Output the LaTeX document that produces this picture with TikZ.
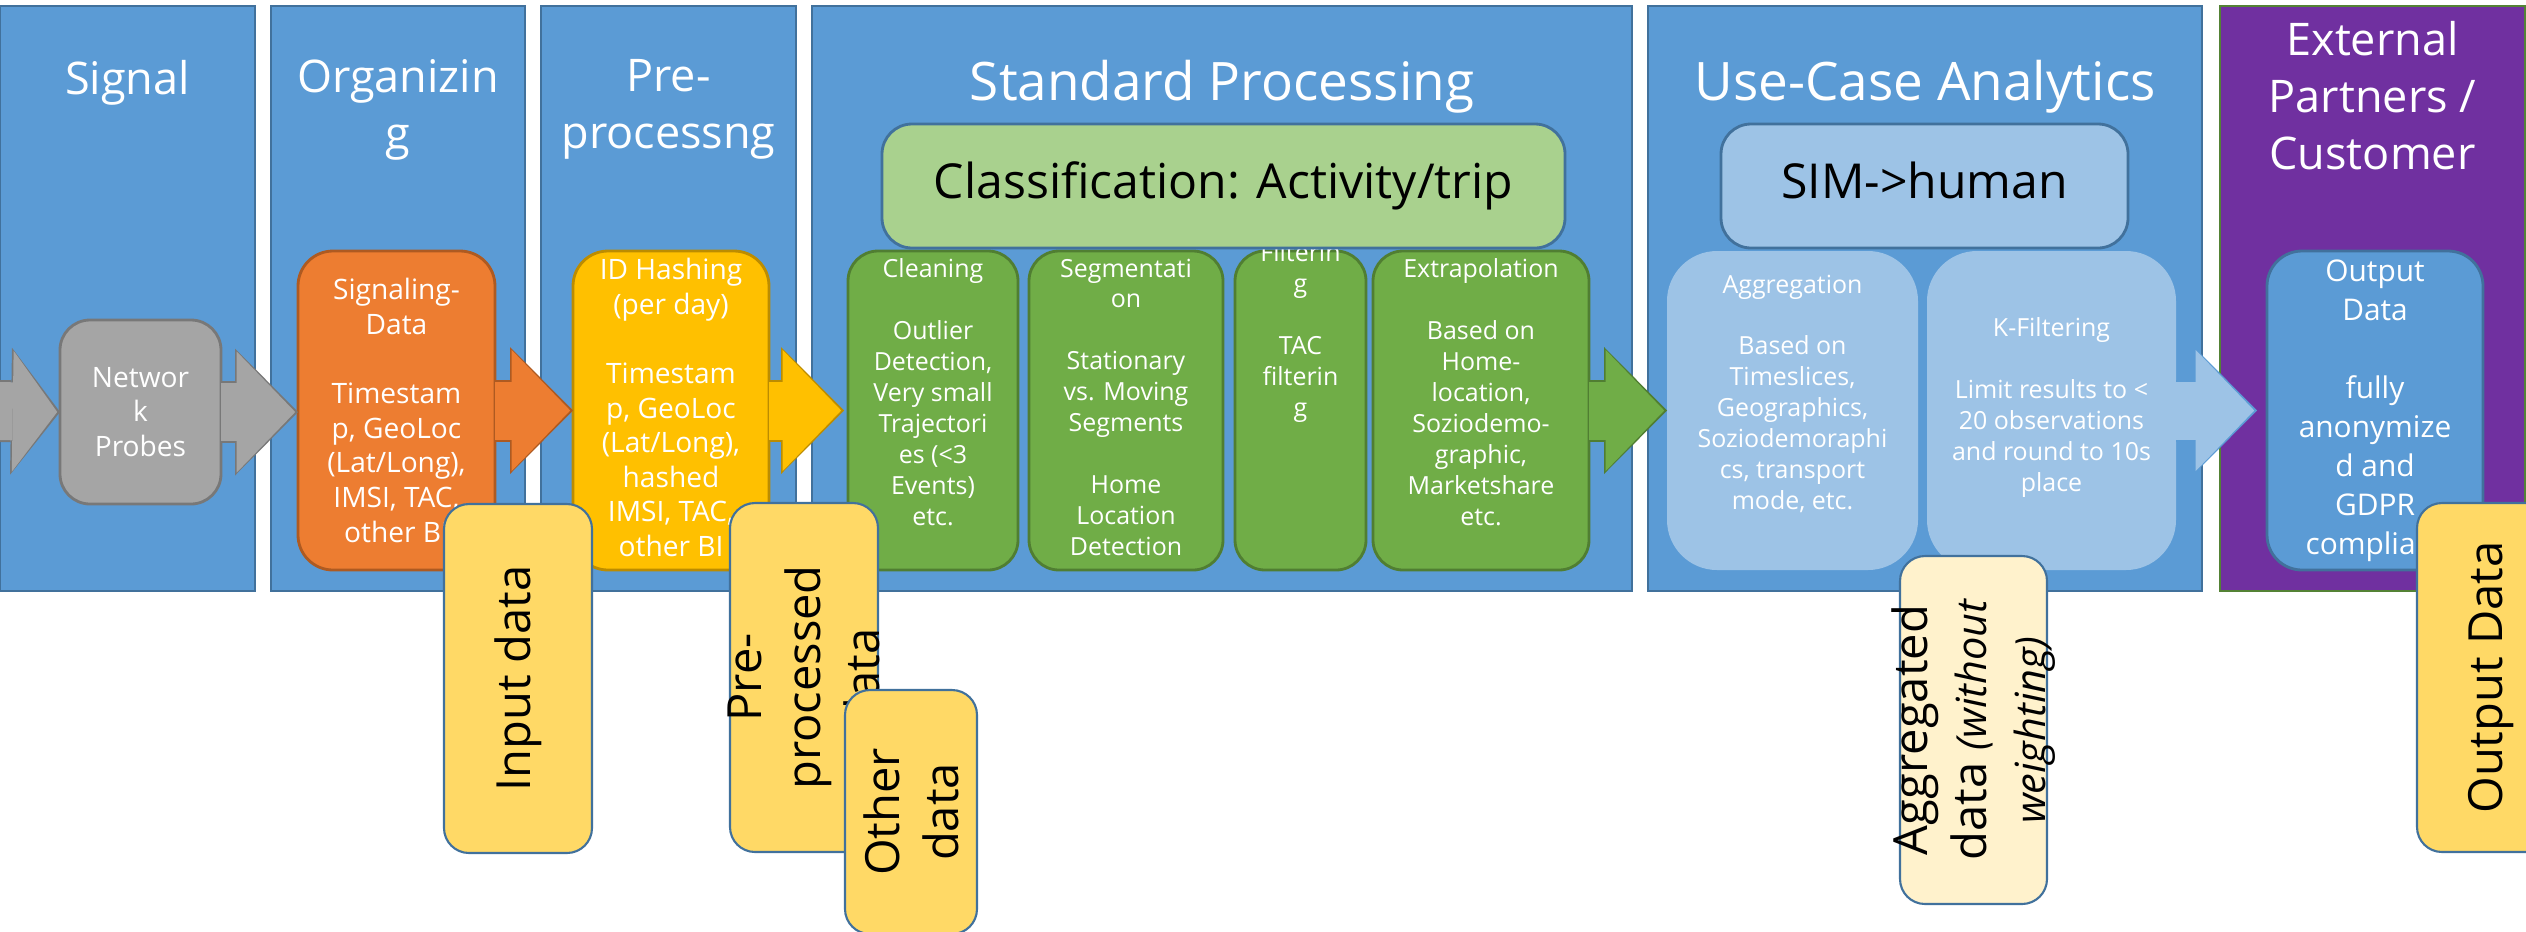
\documentclass[tikz,border=0pt]{standalone}
\usepackage{fontspec}
\setmainfont{Open Sans}
\usetikzlibrary{arrows.meta, positioning, backgrounds}

\definecolor{panelblue}{HTML}{5B9BD5}
\definecolor{panelline}{HTML}{41719C}
\definecolor{extpurple}{HTML}{7030A0}
\definecolor{extline}{HTML}{548235}
\definecolor{probegray}{HTML}{A5A5A5}
\definecolor{probeline}{HTML}{787878}
\definecolor{sigorange}{HTML}{ED7D31}
\definecolor{sigline}{HTML}{AE5A21}
\definecolor{hashyellow}{HTML}{FFC000}
\definecolor{hashline}{HTML}{BC8C00}
\definecolor{stdgreen}{HTML}{70AD47}
\definecolor{stdline}{HTML}{507E32}
\definecolor{clsgreen}{HTML}{A9D18E}
\definecolor{uselight}{HTML}{9DC3E6}
\definecolor{notegold}{HTML}{FFD966}
\definecolor{notecream}{HTML}{FFF2CC}

\begin{document}
\begin{tikzpicture}[
    x=0.1mm, y=-0.1mm,
    % Styles
    panel/.style = {rectangle, draw=panelline, line width=0.6pt, fill=panelblue, anchor=north west, inner sep=0pt, outer sep=0pt, minimum height=58.5mm},
    title/.style = {text=white, align=center, inner sep=0pt, font=\fontsize{12.8}{16.2}\selectfont},
    bigtitle/.style = {title, font=\fontsize{15.1}{18}\selectfont},
    base/.style = {rectangle, rounded corners=3.5mm, line width=0.8pt, minimum height=31.9mm, inner sep=0pt, outer sep=0pt},
    probe/.style = {base, fill=probegray, draw=probeline, rounded corners=3mm, minimum height=18.4mm},
    sigbox/.style = {base, fill=sigorange, draw=sigline},
    hashbox/.style = {base, fill=hashyellow, draw=hashline},
    stdbox/.style = {base, fill=stdgreen, draw=stdline, rounded corners=3mm},
    usebox/.style = {base, fill=uselight, rounded corners=5mm},
    outbox/.style = {base, fill=panelblue, draw=panelline},
    headline/.style = {rectangle, rounded corners=3mm, line width=0.8pt, draw=panelline, minimum height=12.4mm, inner sep=0pt, outer sep=0pt, text height=10.3pt, text depth=3.3pt, font=\fontsize{13.7}{16}\selectfont},
    midtext/.style = {text=white, align=center, inner sep=0pt, font=\fontsize{8}{9.85}\selectfont},
    smltext/.style = {midtext, font=\fontsize{7.1}{8.8}\selectfont},
    outtext/.style = {midtext, font=\fontsize{8.5}{11.1}\selectfont},
    note/.style = {rectangle, rounded corners=2.5mm, line width=0.6pt, draw=panelline, fill=notegold, outer sep=0pt, minimum width=14.8mm, minimum height=34.9mm},
    notetext/.style = {align=center, inner sep=0pt, rotate=90, font=\fontsize{13.4}{16.8}\selectfont},
    arrowedge/.style = {draw=#1, line width=6.2mm, -{Triangle[length=6.3mm, width=12.7mm, line width=0pt]}},
    arrowbody/.style = {draw=#1, line width=5.8mm, -{Triangle[length=5.85mm, width=12.1mm, line width=0pt]}}
]
\useasboundingbox (0,0) rectangle (2526,931);

% --- PANELS ---
\begin{scope}[on background layer]
    \node[panel, minimum width=25.5mm] (signal_panel) at (0,6) {};
    \node[panel, right=1.6mm of signal_panel, minimum width=25.4mm] (organizing_panel) {};
    \node[panel, right=1.6mm of organizing_panel, minimum width=25.5mm] (preproc_panel) {};
    \node[panel, right=1.6mm of preproc_panel, minimum width=82mm] (standard_panel) {};
    \node[panel, right=1.6mm of standard_panel, minimum width=55.4mm] (usecase_panel) {};
    \node[panel, right=1.8mm of usecase_panel, minimum width=30.5mm, fill=extpurple, draw=extline] (external_panel) {};
\end{scope}

\node[title, below=5.4mm of signal_panel.north] (signal_title) {Signal};
\node[title, below=5.3mm of organizing_panel.north] (organizing_title) {Organizin\\g};
\node[title, below=5.3mm of preproc_panel.north] (preproc_title) {Pre-\\processng};
\node[bigtitle, below=5.3mm of standard_panel.north] (standard_title) {Standard Processing};
\node[bigtitle, below=5.3mm of usecase_panel.north] (usecase_title) {Use-Case Analytics};
\node[title, below=1.5mm of external_panel.north] (external_title) {External\\Partners /\\Customer};

% --- 1. SIGNAL, ORGANIZING, PRE-PROCESSING ---
\node[probe, minimum width=16.1mm] (probes) at (140.5,412) {};
\node[midtext] (probes_txt) at (probes) {Networ\\k\\Probes};

\node[sigbox, minimum width=19.7mm] (sigdata) at (396.5,410.5) {};
\node[midtext] (sigdata_txt) at (sigdata) {Signaling-\\Data\\~\\Timestam\\p, GeoLoc\\(Lat/Long),\\IMSI, TAC,\\other BI};

\node[hashbox, minimum width=19.6mm] (idhash) at (671,410.5) {};
\node[midtext, yshift=0.3mm] (idhash_txt) at (idhash) {ID Hashing\\(per day)\\~\\Timestam\\p, GeoLoc\\(Lat/Long),\\hashed\\IMSI, TAC,\\other BI};

% --- 2. STANDARD PROCESSING ---
\node[stdbox, minimum width=17mm] (cleaning) at (933,410.5) {};
\node[stdbox, right=1.1mm of cleaning, minimum width=19.4mm] (segmentation) {};
\node[stdbox, right=1.2mm of segmentation, minimum width=13.1mm] (filtering) {};
\node[stdbox, right=0.7mm of filtering, minimum width=21.6mm] (extrapolation) {};

\node[smltext, below=0.7mm of cleaning.north] (cleaning_txt) {Cleaning\\~\\Outlier\\Detection,\\Very small\\Trajectori\\es (<3\\Events)\\etc.};
\node[smltext, below=0.7mm of segmentation.north] (segmentation_txt) {Segmentati\\on\\~\\Stationary\\vs. Moving\\Segments\\~\\Home\\Location\\Detection};
\node[smltext, below=-0.9mm of filtering.north] (filtering_txt) {Filterin\\g\\~\\TAC\\filterin\\g};
\node[smltext, below=0.7mm of extrapolation.north] (extrapolation_txt) {Extrapolation\\~\\Based on\\Home-\\location,\\Soziodemo-\\graphic,\\Marketshare\\etc.};

\node[headline, fill=clsgreen, minimum width=68.3mm] (classification) at (1223.5,186) {Classification: Activity/trip};

% --- 3. USE-CASE ANALYTICS ---
\node[usebox, minimum width=25.1mm] (aggregation) at (1792.5,410.5) {};
\node[usebox, right=0.9mm of aggregation, minimum width=24.9mm] (kfiltering) {};
\node[smltext, below=2.3mm of aggregation.north] (aggregation_txt) {Aggregation\\~\\Based on\\Timeslices,\\Geographics,\\Soziodemoraphi\\cs, transport\\mode, etc.};
\node[smltext, yshift=0.3mm] (kfiltering_txt) at (kfiltering) {K-Filtering\\~\\Limit results to <\\20 observations\\and round to 10s\\place};

\node[headline, fill=uselight, minimum width=40.7mm] (simhuman) at (1924.5,186) {SIM->human};

% --- 4. EXTERNAL PARTNERS ---
\node[outbox, minimum width=21.6mm] (outdata) at (2375,410.5) {};
\node[outtext] (outdata_txt) at (outdata) {Output\\Data\\~\\fully\\anonymize\\d and\\GDPR\\compliant};

% --- FLOW ARROWS ---
\coordinate (feed) at (-5,411);
\draw[arrowedge=probeline, -{Triangle[length=4.9mm, width=12.7mm, line width=0pt]}] (feed) -- (probes.west);
\draw[arrowbody=probegray, shorten >=0.28mm, -{Triangle[length=4.45mm, width=12.1mm, line width=0pt]}] (feed) -- (probes.west);
\foreach \src/\dst/\body/\edge/\gapa/\gapb in {probes/sigdata/probegray/probeline/0mm/0.28mm,
    sigdata/idhash/sigorange/sigline/0mm/0.28mm,
    idhash/cleaning/hashyellow/hashline/0.4mm/0.68mm,
    extrapolation/aggregation/stdgreen/stdline/0mm/0.28mm,
    kfiltering/outdata/uselight/panelblue/1mm/1.28mm}
{
    \draw[arrowedge=\edge, shorten >=\gapa] (\src.east) -- (\src.east -| \dst.west);
    \draw[arrowbody=\body, shorten >=\gapb] (\src.east) -- (\src.east -| \dst.west);
}

% --- DATA NOTES ---
\node[note] (input_note) at (518,678.5) {};
\node[notetext] (input_txt) at (input_note) {Input data};
\node[note] (preproc_note) at (804,677.5) {};
\node[notetext] (preproc_txt) at (preproc_note) {Pre-\\processed\\data};
\node[note, minimum width=13.2mm, minimum height=24.4mm] (other_note) at (911,812) {};
\node[notetext] (other_txt) at (other_note) {Other\\data};
\node[note, fill=notecream, minimum width=14.7mm, minimum height=34.8mm] (aggregated_note) at (1973.5,730) {};
\node[notetext] (aggregated_txt) at (aggregated_note) {Aggregated\\data {\fontsize{11.8}{14}\selectfont\itshape (without}\\{\fontsize{11.8}{14}\selectfont\itshape weighting)}};
\node[note] (output_note) at (2491,677.5) {};
\node[notetext] (output_txt) at (output_note) {Output Data};

\end{tikzpicture}
\end{document}
